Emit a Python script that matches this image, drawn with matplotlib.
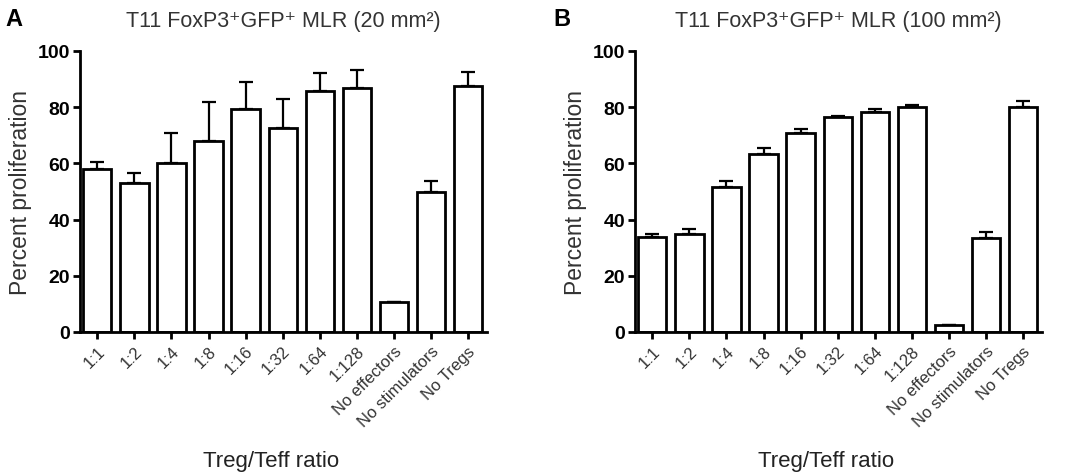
import numpy as np
import matplotlib
matplotlib.use("Agg")
import matplotlib.pyplot as plt

plt.rcParams['font.family'] = ['Liberation Sans', 'DejaVu Sans']

categories = ["1:1", "1:2", "1:4", "1:8", "1:16", "1:32", "1:64", "1:128",
              "No effectors", "No stimulators", "No Tregs"]

vals_a = [57.9, 53.1, 60.3, 68.0, 79.5, 72.7, 85.8, 86.7, 10.8, 49.9, 87.5]
err_a = [2.7, 3.6, 10.4, 14.0, 9.5, 10.3, 6.2, 6.5, 0.0, 3.7, 5.0]

vals_b = [33.9, 35.0, 51.6, 63.2, 70.7, 76.6, 78.3, 80.2, 2.4, 33.6, 80.2]
err_b = [1.1, 1.8, 2.0, 2.2, 1.7, 0.3, 1.2, 0.5, 0.0, 2.0, 1.9]

titles = ["T11 FoxP3\u207aGFP\u207a MLR (20 mm\u00b2)",
          "T11 FoxP3\u207aGFP\u207a MLR (100 mm\u00b2)"]
panel_letters = ["A", "B"]
yticks = [0, 20, 40, 60, 80, 100]

W, H = 1082, 477
fig = plt.figure(figsize=(W / 100, H / 100), dpi=100)

axes_px = [(80, 487), (635, 1042)]
y_bot, y_top = 333, 52

for i, (vals, errs) in enumerate([(vals_a, err_a), (vals_b, err_b)]):
    l, r = axes_px[i]
    ax = fig.add_axes([l / W, 1 - y_bot / H, (r - l) / W, (y_bot - y_top) / H])
    x = np.arange(len(categories))
    ax.errorbar(x, vals, yerr=[np.zeros(len(vals)), errs], fmt='none',
                ecolor='black', elinewidth=1.6, capsize=5, capthick=1.6, zorder=1)
    ax.bar(x, vals, width=0.76, facecolor='white', edgecolor='black',
           linewidth=2.0, zorder=2)
    ax.set_xlim(-0.47, 10.52)
    ax.set_ylim(0, 100)
    ax.set_yticks(yticks)
    ax.set_yticklabels([str(t) for t in yticks], fontsize=14, fontweight='bold')
    ax.set_xticks(x)
    ax.set_xticklabels(categories, rotation=45, ha='right', rotation_mode='anchor',
                       fontsize=12, color='#333333')
    for lab in ax.get_xticklabels():
        lab.set_transform(lab.get_transform() +
                          matplotlib.transforms.ScaledTranslation(7 / 72, 0, fig.dpi_scale_trans))
    ax.spines['top'].set_visible(False)
    ax.spines['right'].set_visible(False)
    ax.spines['left'].set_linewidth(2.0)
    ax.spines['bottom'].set_linewidth(2.0)
    ax.tick_params(axis='both', width=2.0, length=5, direction='out')
    ax.tick_params(axis='y', pad=2)
    ax.tick_params(axis='x', pad=3)
    ax.set_ylabel("Percent proliferation", fontsize=16.5, color='#333333', labelpad=4)
    ax.set_xlabel("Treg/Teff ratio", fontsize=16, color='#222222')
    ax.xaxis.set_label_coords(0.47, -0.42)
    ax.set_title(titles[i], fontsize=15.5, color='#333333', pad=18)
    ax.patch.set_alpha(0)

fig.text(5 / W, 1 - 20 / H, "A", fontsize=17, fontweight='bold', va='center', ha='left')
fig.text(553 / W, 1 - 20 / H, "B", fontsize=17, fontweight='bold', va='center', ha='left')

fig.savefig("out.png", dpi=100)
